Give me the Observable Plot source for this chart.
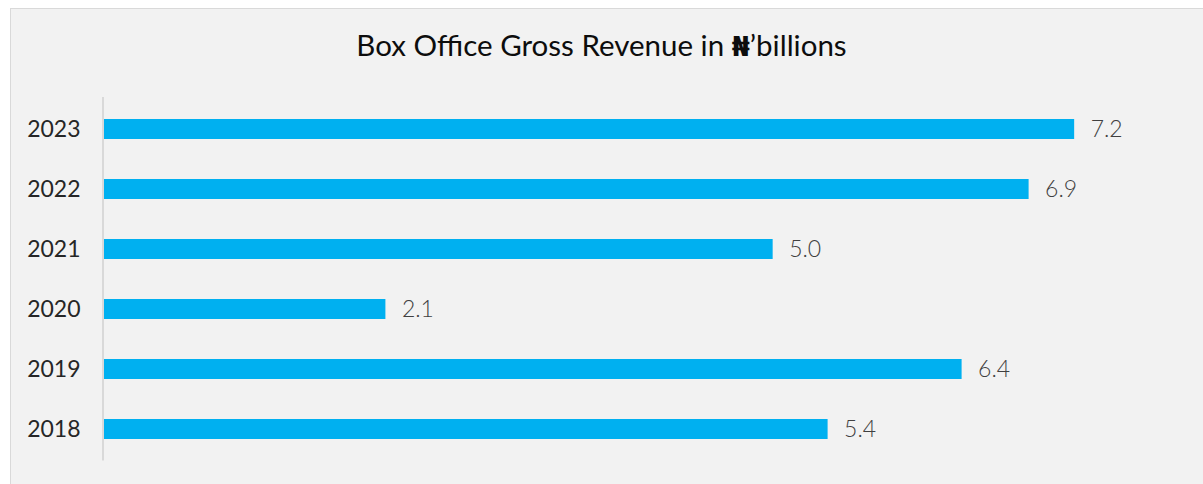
<!DOCTYPE html>
<html>
<head>
<meta charset="utf-8">
<script src="https://cdn.jsdelivr.net/npm/d3@7"></script>
<script src="https://cdn.jsdelivr.net/npm/@observablehq/plot@0.6"></script>
<style>
  html, body { margin: 0; padding: 0; background: #ffffff; width: 1203px; height: 484px; overflow: hidden; }
  #panel { position: absolute; left: 10px; top: 8px; width: 1300px; height: 600px;
           background: #f2f2f2; border-top: 1.5px solid #d9d9d9; border-left: 1.5px solid #d9d9d9; }
  #wrap { position: absolute; left: 0; top: 0; width: 1203px; }
  #title { height: 80px; box-sizing: border-box; padding-top: 30px; text-align: center;
           font-family: Lato, "DejaVu Sans", sans-serif; font-size: 29.5px; line-height: 1; color: #0d0d0d; }
  svg { display: block; }
</style>
</head>
<body>
<div id="panel"></div>
<div id="wrap">
  <div id="title">Box Office Gross Revenue in <b style="font-family:'DejaVu Sans'; font-size:26px">₦</b>’billions</div>
  <div id="chart"></div>
</div>
<script>
const years = ["2023", "2022", "2021", "2020", "2019", "2018"];
const revenue = [7.24, 6.90, 4.99, 2.10, 6.40, 5.40];

const data = years.map((y, i) => ({year: y, value: revenue[i]}));

const chart = Plot.plot({
  width: 1203,
  height: 404,
  marginTop: 17,
  marginBottom: 23.5,
  marginLeft: 104,
  marginRight: 27,
  style: {background: "transparent", fontFamily: "Lato, 'DejaVu Sans', sans-serif"},
  x: {domain: [0, 8], range: [104, 1176], axis: null},
  y: {domain: years, paddingInner: 0.67, paddingOuter: 0.335, label: null,
      tickSize: 0, tickPadding: 24},
  marks: [
    Plot.barX(data, {y: "year", x: "value", fill: "#00b0f0"}),
    Plot.ruleX([0], {stroke: "#d9d9d9", strokeWidth: 2, dx: -1.5}),
    Plot.axisY({tickSize: 0, tickPadding: 24, fontSize: 23, color: "#262626", label: null}),
    Plot.text(data, {y: "year", x: "value", text: d => d.value.toFixed(1), dx: 16,
      textAnchor: "start", fontSize: 23, fontWeight: 300, fill: "#404040"})
  ]
});
document.getElementById("chart").appendChild(chart);
</script>
</body>
</html>
